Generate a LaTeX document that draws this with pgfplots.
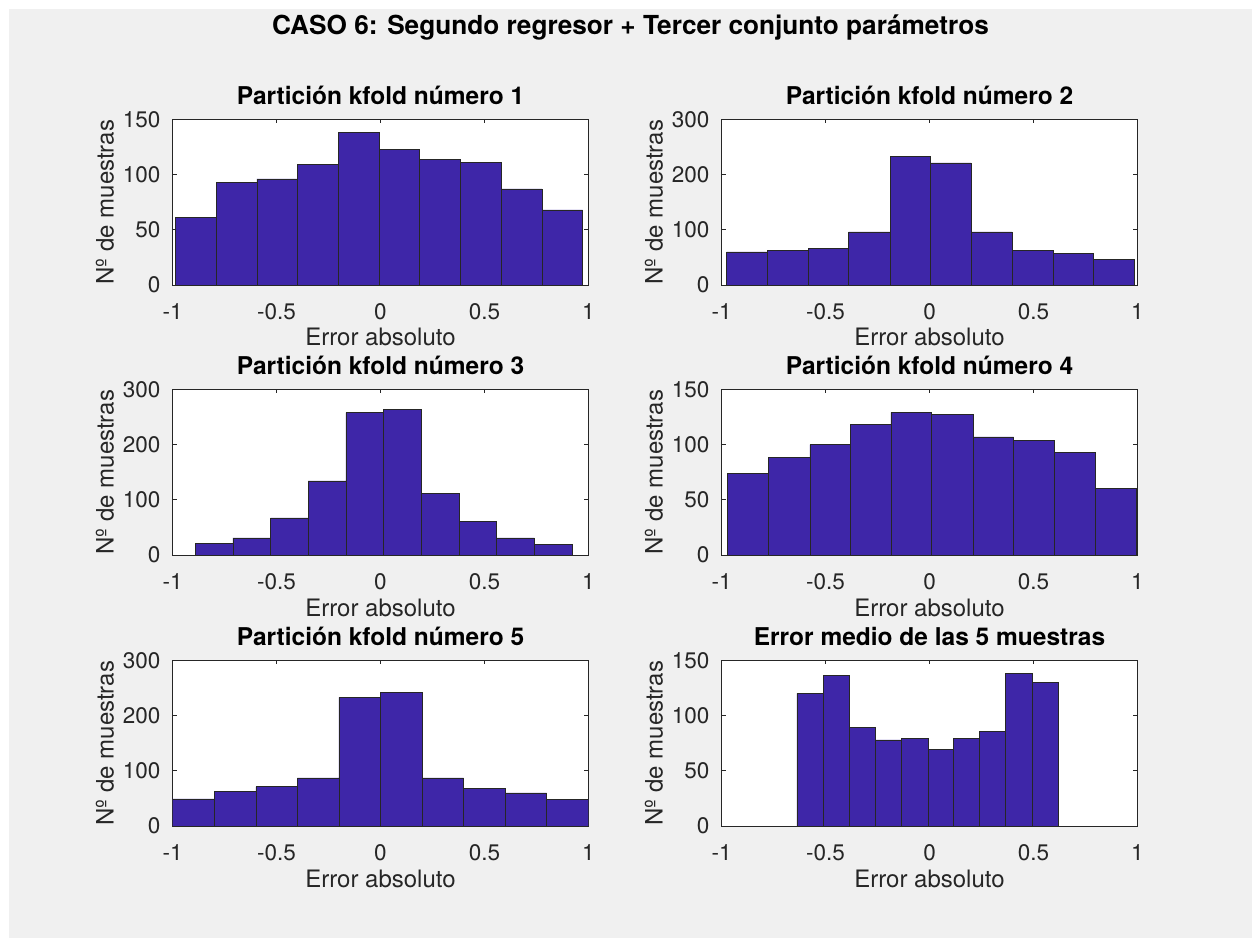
\documentclass[border=0pt]{standalone}
\usepackage{pgfplots}
\pgfplotsset{compat=1.18}
\usepackage{fontspec}
\setmainfont{TeX Gyre Heros}

\definecolor{figbg}{RGB}{240,240,240}
\definecolor{barfill}{RGB}{62,38,168}
\definecolor{axgray}{RGB}{38,38,38}

\pgfplotsset{
  hist/.style={
    scale only axis, width=415.6pt, height=165.7pt,
    anchor=south west,
    xmin=-1, xmax=1, ymin=0,
    axis background/.style={fill=white},
    axis line style={axgray, line width=0.6pt},
    every tick/.style={axgray, line width=0.6pt},
    tick align=inside, major tick length=4pt,
    xtick={-1,-0.5,0,0.5,1}, xticklabels={-1,-0.5,0,0.5,1},
    ticklabel style={font=\fontsize{22.5}{25}\selectfont, text=axgray},
    xticklabel style={inner sep=0pt, anchor=north, yshift=-18pt},
    yticklabel style={inner sep=0pt, anchor=east, xshift=-12pt},
    xlabel={Error absoluto},
    ylabel={Nº de muestras},
    label style={font=\fontsize{24}{27}\selectfont, text=axgray, inner sep=0pt},
    xlabel style={at={(axis description cs:0.5,0)}, anchor=base, yshift=-61pt},
    ylabel style={at={(axis description cs:0,0.5)}, anchor=base, yshift=59pt},
    title style={at={(axis description cs:0.5,1)}, anchor=base, yshift=9pt, inner sep=0pt,
                 font=\bfseries\fontsize{24.5}{27}\selectfont},
  },
  lo/.style={ymax=150, ytick={0,50,100,150}, yticklabels={0,50,100,150}},
  hi/.style={ymax=300, ytick={0,100,200,300}, yticklabels={0,100,200,300}},
  bars/.style={ybar interval, fill=barfill, draw=black!85, line width=0.6pt},
}

\begin{document}
\begin{tikzpicture}
\fill[white] (0pt,0pt) rectangle (1252pt,938pt);
\fill[figbg] (9pt,0pt) rectangle (1252pt,929pt);
\node[anchor=base, font=\bfseries\fontsize{26.2}{29}\selectfont] at (630.5pt,903pt)
  {CASO 6: Segundo regresor + Tercer conjunto parámetros};

% fold 1
\begin{axis}[hist, lo, at={(172.7pt,653pt)}, title={Partición kfold número 1}]
\addplot[bars] coordinates {
(-0.987,61) (-0.791,93) (-0.595,96) (-0.399,109) (-0.203,138)
(-0.007,123) (0.189,114) (0.385,111) (0.581,87) (0.777,68) (0.973,68)};
\end{axis}

% fold 2
\begin{axis}[hist, hi, at={(721.7pt,653pt)}, title={Partición kfold número 2}]
\addplot[bars] coordinates {
(-0.976,60) (-0.779,62) (-0.584,66) (-0.389,96) (-0.190,233)
(0.005,221) (0.200,96) (0.397,63) (0.594,57) (0.789,47) (0.984,47)};
\end{axis}

% fold 3
\begin{axis}[hist, hi, at={(172.7pt,383pt)}, title={Partición kfold número 3}]
\addplot[bars] coordinates {
(-0.891,21) (-0.710,31) (-0.529,67) (-0.348,134) (-0.167,258)
(0.014,263) (0.197,111) (0.378,61) (0.559,31) (0.740,19) (0.921,19)};
\end{axis}

% fold 4
\begin{axis}[hist, lo, at={(721.7pt,383pt)}, title={Partición kfold número 4}]
\addplot[bars] coordinates {
(-0.973,74) (-0.774,88) (-0.576,100) (-0.381,118) (-0.186,129)
(0.011,127) (0.210,107) (0.405,104) (0.600,93) (0.798,60) (0.995,60)};
\end{axis}

% fold 5
\begin{axis}[hist, hi, at={(172.7pt,112pt)}, title={Partición kfold número 5}]
\addplot[bars] coordinates {
(-1.0,49) (-0.8,62) (-0.6,71) (-0.4,87) (-0.2,233)
(0.0,242) (0.2,87) (0.4,68) (0.6,60) (0.8,48) (1.0,48)};
\end{axis}

% mean error
\begin{axis}[hist, lo, at={(721.7pt,112pt)}, title={Error medio de las 5 muestras}]
\addplot[bars] coordinates {
(-0.638,120) (-0.512,136) (-0.387,89) (-0.261,78) (-0.134,79)
(-0.008,69) (0.115,79) (0.242,86) (0.366,138) (0.493,130) (0.618,130)};
\end{axis}
\end{tikzpicture}
\end{document}
